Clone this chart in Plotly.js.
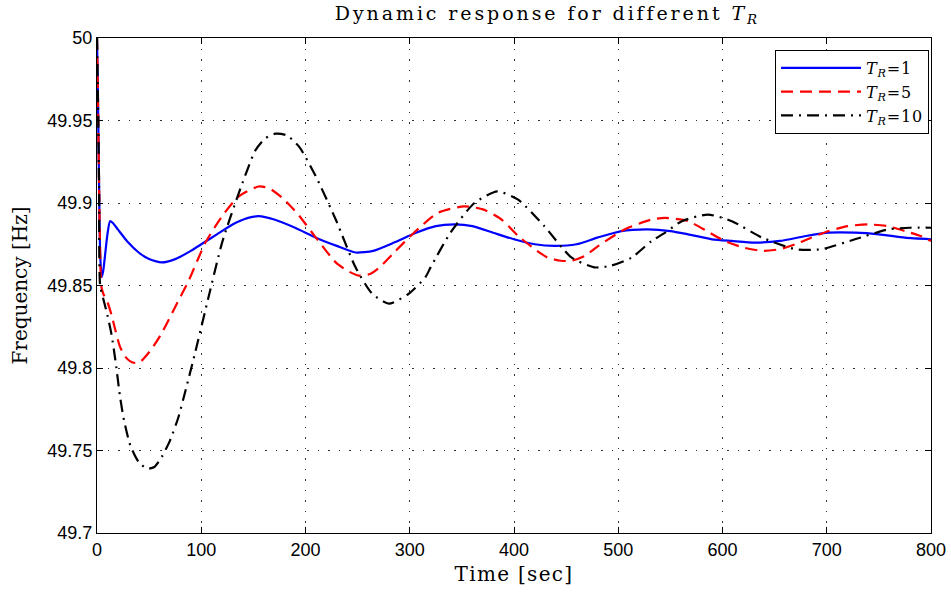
<!DOCTYPE html>
<html>
<head>
<meta charset="utf-8">
<script src="https://cdn.plot.ly/plotly-3.0.1.min.js"></script>
<style>
html,body{margin:0;padding:0;background:#fff;}
#chart{width:951px;height:595px;}
.gtitle{letter-spacing:2.9px;}
.xtitle{letter-spacing:1.3px;}
.legendtext{letter-spacing:0.8px;}
</style>
</head>
<body>
<div id="chart"></div>
<script>
// ---- data ----
const seriesNames = ["<i>T</i><sub><i>R</i></sub>=1", "<i>T</i><sub><i>R</i></sub>=5", "<i>T</i><sub><i>R</i></sub>=10"];

const tBlue = [0, 1, 2, 3, 4.5, 6, 8, 10, 12.5, 15, 20, 30, 40, 50, 62, 75, 90, 100, 115, 130, 145, 155, 170, 190, 210, 230, 248, 265, 285, 306, 325, 343, 360, 380, 400, 420, 439, 460, 480, 503, 528, 550, 567, 590, 609, 631, 655, 680, 702, 727, 750, 775, 800];
const fBlue = [50, 49.96, 49.91, 49.87, 49.855, 49.859, 49.870, 49.881, 49.889, 49.888, 49.884, 49.876, 49.870, 49.866, 49.864, 49.866, 49.871, 49.875, 49.881, 49.887, 49.891, 49.892, 49.890, 49.885, 49.879, 49.874, 49.870, 49.871, 49.876, 49.882, 49.886, 49.887, 49.886, 49.882, 49.878, 49.875, 49.874, 49.875, 49.879, 49.883, 49.884, 49.883, 49.881, 49.878, 49.877, 49.876, 49.877, 49.880, 49.882, 49.882, 49.881, 49.879, 49.878];

const tRed = [0, 1, 2, 3, 4, 6, 10, 14, 18, 22, 27, 32, 37, 42, 48, 54, 62, 75, 88, 104, 120, 136, 155, 165, 178, 193, 210, 229, 240, 251, 262, 271, 285, 304, 327, 352, 371, 388, 404, 420, 432, 445, 455, 468, 481, 506, 532, 545, 567, 585, 602, 620, 638, 655, 670, 685, 702, 720, 740, 758, 775, 790, 800];
const fRed = [50, 49.96, 49.91, 49.87, 49.85, 49.845, 49.840, 49.832, 49.822, 49.813, 49.807, 49.804, 49.803, 49.804, 49.808, 49.813, 49.821, 49.837, 49.853, 49.876, 49.892, 49.904, 49.910, 49.909, 49.903, 49.893, 49.879, 49.864, 49.859, 49.856, 49.857, 49.861, 49.870, 49.882, 49.894, 49.898, 49.896, 49.890, 49.880, 49.872, 49.867, 49.865, 49.865, 49.868, 49.874, 49.884, 49.890, 49.891, 49.889, 49.883, 49.877, 49.873, 49.871, 49.872, 49.875, 49.879, 49.883, 49.886, 49.887, 49.886, 49.883, 49.880, 49.877];

const tBlack = [0, 1, 2, 3, 6, 10, 14, 18, 22, 26, 32, 40, 48, 55, 62, 70, 78, 86, 94, 107, 120, 136, 152, 161, 171, 182, 194, 210, 229, 248, 264, 280, 299, 315, 320, 339, 362, 384, 404, 429, 455, 477, 493, 513, 532, 545, 561, 586, 609, 638, 670, 695, 727, 759, 780, 800];
const fBlack = [50, 49.96, 49.91, 49.85, 49.842, 49.832, 49.820, 49.803, 49.783, 49.768, 49.753, 49.743, 49.739, 49.740, 49.746, 49.756, 49.770, 49.789, 49.809, 49.843, 49.876, 49.906, 49.932, 49.939, 49.942, 49.941, 49.934, 49.916, 49.890, 49.861, 49.845, 49.839, 49.845, 49.855, 49.861, 49.882, 49.900, 49.907, 49.902, 49.886, 49.867, 49.861, 49.862, 49.867, 49.877, 49.882, 49.889, 49.893, 49.889, 49.879, 49.872, 49.872, 49.878, 49.884, 49.885, 49.885];

const xTicks = [0, 100, 200, 300, 400, 500, 600, 700, 800];
const yTicks = [49.7, 49.75, 49.8, 49.85, 49.9, 49.95, 50];
const yTickText = ["49.7", "49.75", "49.8", "49.85", "49.9", "49.95", "50"];

const serif = "DejaVu Serif, Liberation Serif, serif";
const sans = "Liberation Sans, Arial, sans-serif";

const traces = [
  {x: tBlue, y: fBlue, name: seriesNames[0], mode: "lines",
   line: {color: "#0000ff", width: 2.2, shape: "spline", smoothing: 0.6}},
  {x: tRed, y: fRed, name: seriesNames[1], mode: "lines",
   line: {color: "#ff0000", width: 2.2, dash: "12px,7px", shape: "spline", smoothing: 0.6}},
  {x: tBlack, y: fBlack, name: seriesNames[2], mode: "lines",
   line: {color: "#000000", width: 2.2, dash: "12px,6px,2px,6px", shape: "spline", smoothing: 0.6}}
];

const axisCommon = {
  showline: true, linecolor: "#000", linewidth: 1, mirror: "allticks",
  ticks: "inside", ticklen: 6, tickwidth: 1, tickcolor: "#000",
  showgrid: true, gridcolor: "#333", gridwidth: 1, griddash: "1.5px,9px",
  zeroline: false,
  tickfont: {family: sans, size: 18, color: "#000"}
};

const layout = {
  width: 951, height: 595,
  margin: {l: 97, r: 20, t: 38, b: 62, pad: 0},
  paper_bgcolor: "#fff", plot_bgcolor: "#fff",
  showlegend: true,
  title: {text: "Dynamic response for different <i>T</i><sub><i>R</i></sub>",
          font: {family: serif, size: 19, color: "#000"},
          x: 0.54, xref: "paper", xanchor: "center", y: 0.978, yref: "container", yanchor: "middle"},
  xaxis: Object.assign({}, axisCommon, {
    range: [0, 800], tickmode: "array", tickvals: xTicks,
    title: {text: "Time [sec]", font: {family: serif, size: 20, color: "#000"}, standoff: 8}
  }),
  yaxis: Object.assign({}, axisCommon, {
    range: [49.7, 50], tickmode: "array", tickvals: yTicks, ticktext: yTickText,
    title: {text: "Frequency [Hz]", font: {family: serif, size: 20, color: "#000"}, standoff: 14}
  }),
  legend: {
    x: 0.9976, y: 0.976, xanchor: "right", yanchor: "top",
    bgcolor: "#fff", bordercolor: "#000", borderwidth: 1,
    font: {family: serif, size: 16, color: "#000"},
    itemwidth: 80, tracegroupgap: 0
  }
};

Plotly.newPlot("chart", traces, layout, {displayModeBar: false, staticPlot: true});
</script>
</body>
</html>
